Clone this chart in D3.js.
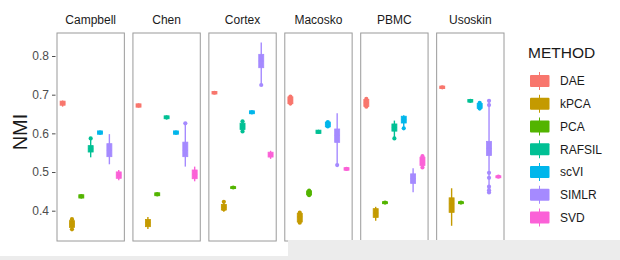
<!DOCTYPE html>
<html><head><meta charset="utf-8">
<script src="https://cdn.jsdelivr.net/npm/d3@7"></script>
<style>html,body{margin:0;padding:0;background:#fff;}svg{display:block;font-family:Arial,"Liberation Sans",sans-serif;}</style>
</head><body>
<svg id="c" width="620" height="260"></svg>
<script>
const datasets = ["Campbell","Chen","Cortex","Macosko","PBMC","Usoskin"];
const methods = ["DAE","kPCA","PCA","RAFSIL","scVI","SIMLR","SVD"];
const methodColors = ["#F8766D","#C49A00","#53B400","#00C094","#00B6EB","#A58AFF","#FB61D7"];
const yTicks = [0.4,0.5,0.6,0.7,0.8];
const yTickLabels = ["0.4","0.5","0.6","0.7","0.8"];

// box stats per method: [min, q1, median, q3, max]
const campbellBoxes = [[0.669,0.674,0.678,0.682,0.685],[0.347,0.358,0.366,0.373,0.380],[0.432,0.434,0.437,0.440,0.442],[0.538,0.553,0.560,0.567,0.587],[0.597,0.599,0.602,0.605,0.607],[0.520,0.541,0.556,0.572,0.598],[0.479,0.485,0.492,0.499,0.505]];
const chenBoxes = [[0.667,0.669,0.672,0.675,0.677],[0.353,0.360,0.369,0.376,0.384],[0.438,0.440,0.442,0.445,0.447],[0.636,0.639,0.641,0.644,0.646],[0.597,0.599,0.602,0.605,0.607],[0.514,0.541,0.556,0.576,0.626],[0.476,0.484,0.494,0.504,0.514]];
const cortexBoxes = [[0.702,0.703,0.705,0.707,0.708],[0.397,0.403,0.409,0.415,0.423],[0.458,0.459,0.460,0.461,0.462],[0.603,0.611,0.618,0.625,0.632],[0.650,0.652,0.654,0.657,0.659],[0.725,0.771,0.787,0.803,0.835],[0.534,0.540,0.545,0.550,0.555]];
const macoskoBoxes = [[0.673,0.678,0.686,0.693,0.697],[0.366,0.372,0.384,0.392,0.397],[0.438,0.442,0.446,0.450,0.453],[0.599,0.601,0.604,0.607,0.609],[0.614,0.618,0.624,0.628,0.631],[0.518,0.578,0.595,0.610,0.652],[0.505,0.506,0.508,0.510,0.511]];
const pbmcBoxes = [[0.666,0.671,0.679,0.686,0.691],[0.374,0.384,0.394,0.404,0.410],[0.419,0.420,0.421,0.422,0.423],[0.587,0.607,0.615,0.623,0.633],[0.613,0.628,0.635,0.643,0.647],[0.448,0.472,0.483,0.494,0.510],[0.512,0.518,0.528,0.537,0.541]];
const usoskinBoxes = [[0.716,0.717,0.719,0.721,0.722],[0.361,0.397,0.418,0.432,0.458],[0.419,0.420,0.421,0.422,0.423],[0.681,0.682,0.684,0.686,0.687],[0.662,0.666,0.671,0.676,0.679],[0.447,0.544,0.561,0.578,0.684],[0.486,0.487,0.488,0.489,0.490]];

// individual run points per method
const campbellPoints = [[0.678],[0.378,0.352],[0.437],[0.587],[0.602],[],[]];
const chenPoints = [[0.672],[],[0.442],[0.641],[0.602],[0.626],[]];
const cortexPoints = [[0.705],[0.423,0.410,0.404],[0.460],[0.631,0.617,0.605],[0.654],[0.725],[]];
const macoskoPoints = [[0.695,0.686,0.677],[0.395,0.384,0.369],[0.452,0.440],[0.604],[0.629,0.618],[0.518],[0.508]];
const pbmcPoints = [[0.689,0.679,0.669],[],[0.421],[0.587],[0.613],[],[0.541,0.528,0.512]];
const usoskinPoints = [[0.719],[],[0.421],[0.684],[0.679,0.670,0.664],[0.684,0.673,0.498,0.485,0.462,0.453,0.447],[0.488]];

const allBoxes = [campbellBoxes, chenBoxes, cortexBoxes, macoskoBoxes, pbmcBoxes, usoskinBoxes];
const allPoints = [campbellPoints, chenPoints, cortexPoints, macoskoPoints, pbmcPoints, usoskinPoints];

const svg = d3.select("#c");
const panelTop = 33, panelBottom = 241;
const fx = d3.scaleBand().domain(datasets).range([57,504]).paddingInner(0.113).paddingOuter(0);
const y = d3.scaleLinear().domain([0.4,0.8]).range([210.7,56]);
const color = d3.scaleOrdinal().domain(methods).range(methodColors);

// y axis
const yAxis = d3.axisLeft(y).tickValues(yTicks).tickFormat((d,i)=>yTickLabels[i]).tickSize(3.5).tickPadding(3);
const ga = svg.append("g").attr("transform",`translate(${fx(datasets[0])-1.5},0)`).call(yAxis);
ga.select(".domain").remove();
ga.selectAll(".tick line").attr("stroke","#4d4d4d");
ga.selectAll(".tick text").attr("fill","#4d4d4d").style("font-size","12px");

svg.append("text").attr("transform","translate(27,132) rotate(-90)")
  .attr("text-anchor","middle").style("font-size","20px").attr("fill","#1a1a1a").text("NMI");

datasets.forEach((ds,di)=>{
  const x0 = fx(ds), w = fx.bandwidth();
  const g = svg.append("g");
  g.append("rect").attr("x",x0).attr("y",panelTop).attr("width",w).attr("height",panelBottom-panelTop)
    .attr("fill","#fff").attr("stroke","#9a9a9a").attr("stroke-width",1);
  g.append("text").attr("x",x0+w/2).attr("y",24).attr("text-anchor","middle")
    .style("font-size","12px").attr("fill","#1a1a1a").text(ds);
  const xs = d3.scalePoint().domain(methods).range([x0,x0+w]).padding(0.6);
  methods.forEach((m,mi)=>{
    const b = allBoxes[di][mi];
    const cx = xs(m);
    const c = color(m);
    g.append("line").attr("x1",cx).attr("x2",cx).attr("y1",y(b[4])).attr("y2",y(b[0]))
      .attr("stroke",c).attr("stroke-width",1.4);
    const top = y(b[3]), bot = y(b[1]);
    g.append("rect").attr("x",cx-2.5).attr("y",top-0.5).attr("width",5).attr("height",Math.max(1,bot-top)+1)
      .attr("fill",c).attr("stroke",c).attr("stroke-width",0.8);
    g.append("line").attr("x1",cx-2.5).attr("x2",cx+2.5).attr("y1",y(b[2])).attr("y2",y(b[2]))
      .attr("stroke",c).attr("stroke-width",1);
    g.selectAll(null).data(allPoints[di][mi]).enter().append("circle")
      .attr("cx",cx).attr("cy",d=>y(d)).attr("r",2.1).attr("fill",c);
  });
});

// legend
const lg = svg.append("g");
lg.append("text").attr("x",528).attr("y",58).style("font-size","15.5px").attr("fill","#1a1a1a").text("METHOD");
const ly = d3.scalePoint().domain(methods).range([81,217.5]);
methods.forEach(m=>{
  const cy = ly(m), c = color(m);
  lg.append("line").attr("x1",539.5).attr("x2",539.5).attr("y1",cy-9).attr("y2",cy+9).attr("stroke",c).attr("stroke-width",1);
  lg.append("rect").attr("x",530).attr("y",cy-6).attr("width",19.5).attr("height",12).attr("rx",1).attr("fill",c);
  lg.append("text").attr("x",560).attr("y",cy+4.3).style("font-size","12px").attr("fill","#1a1a1a").text(m);
});

// grey strips at bottom (screenshot edge)
svg.append("rect").attr("x",0).attr("y",256).attr("width",288).attr("height",4).attr("fill","#ececec");
svg.append("rect").attr("x",288).attr("y",240).attr("width",332).attr("height",20).attr("fill","#ececec");
</script>
</body></html>
